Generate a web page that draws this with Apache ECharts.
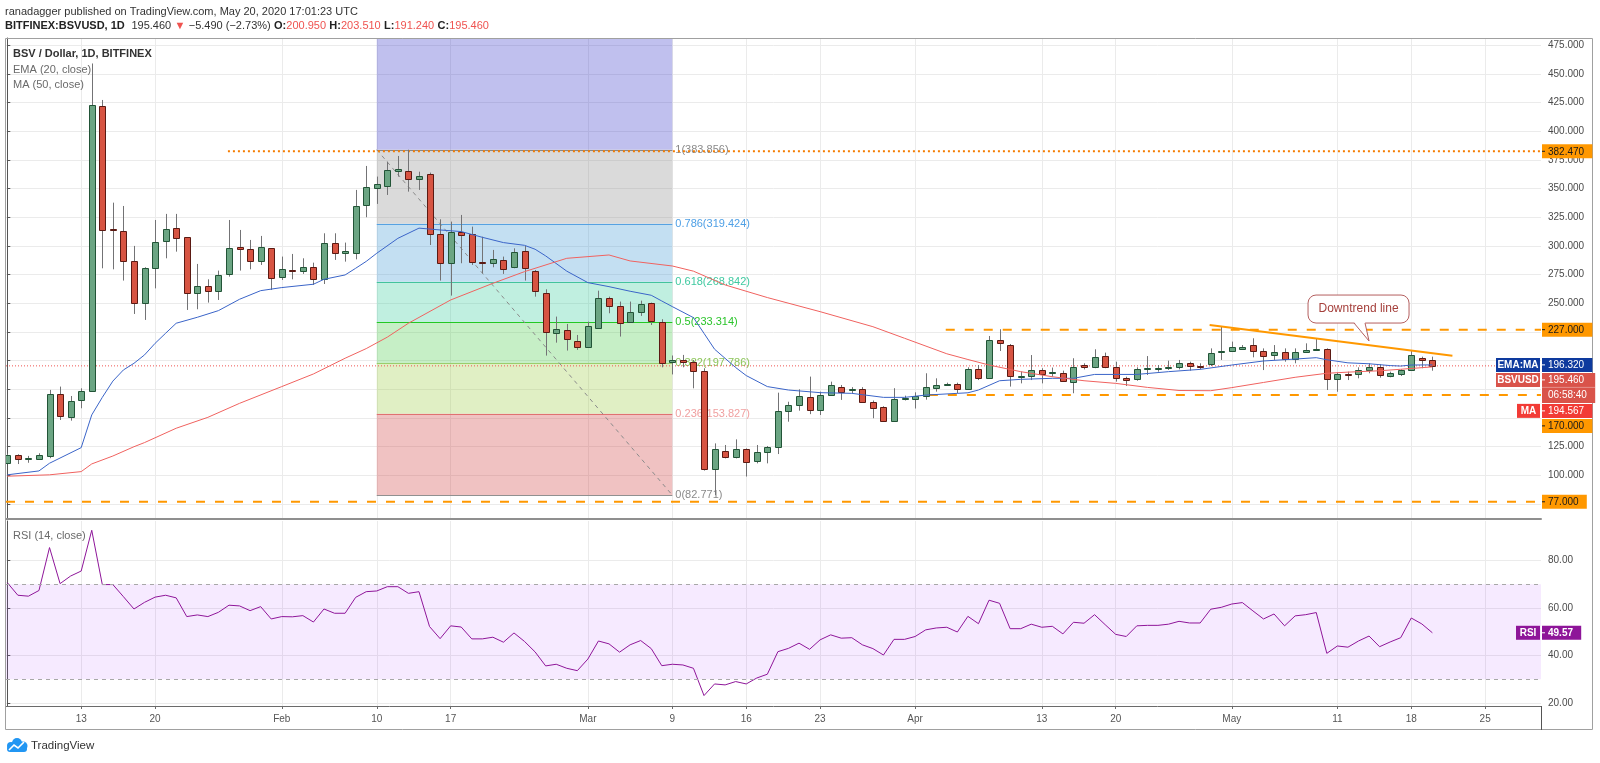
<!DOCTYPE html>
<html><head><meta charset="utf-8">
<script src="https://cdn.jsdelivr.net/npm/echarts@6/dist/echarts.min.js"></script>
<style>html,body{margin:0;padding:0;background:#fff}#c{width:1600px;height:763px}</style>
</head><body><div id="c"></div>
<script>
// ---------- DATA (day index 0 = 2020-01-06, one candle per day) ----------
const ohlc = [ // [open, close, low, high]
[111,118,110,119],[117.8,114.3,109.9,118.4],[115,115.3,111,117],[114,117.5,113.5,119.3],[116.9,171,115,174.5],
[171,151.8,148.3,177.4],[150.6,164.9,147.7,169.2],[165.8,173.3,158.5,175.9],[173.9,422.8,173,459],[422,313.9,280.5,427.2],
[315,313.5,279.6,337.7],[312.7,287.2,269.8,334.8],[286.6,250,240.7,300],[250,280.5,235.5,281.4],[281.1,303.7,263,322.6],
[304.3,314.5,289.2,327.9],[315.4,307.2,295,327.9],[307.5,259.3,244.2,307.5],[259.3,265.4,244.8,284.3],[265.4,260.7,250.6,270.9],
[260.7,274.7,252.9,278.5],[275.6,297.9,273.2,322.6],[299.4,297,278.5,313.9],[297,287.2,279.6,305.2],[287.2,298.8,283.4,308.7],
[297.9,272.4,261.6,298],[273.2,279.6,270.3,290.7],[279,278.5,270.9,293],[278.5,282,275.6,289.2],[282,270.9,266,285.4],
[270.9,302.3,266.8,311],[302.3,294.2,287.8,311],[294.2,295.9,286.3,302.9],[294.2,334.8,288.3,348.8],[335.4,351.1,325,369.7],
[350.5,353.7,336.6,360.4],[352.5,366.2,344.4,373.5],[365.6,366.8,360.4,378.4],[365.6,358.1,347.3,383.86],[358.1,361.3,348.8,364.7],
[362.4,310.4,300.8,363.9],[310.1,285.4,269.8,323.2],[284.9,312.5,256.7,321.2],[312.2,309.6,284.9,327],[310.4,286.3,283.4,316.8],
[286.3,286.0,276.1,308],[284.9,288.9,281.4,296.5],[287.8,279.6,275.6,290.7],[281.4,295,280.5,297.9],[295.6,280.5,269.8,300],
[278.5,260.7,255.8,279],[258.7,225,204.4,262.2],[223.9,227.9,215.7,238.4],[227,218.6,208.8,232],[217.5,212.2,209.4,222.4],
[212.2,230.2,212,234],[228.8,254.4,228.2,261],[254.4,248,241.3,255.8],[248,232.6,221,251.5],[234,242.7,233.2,251.5],
[242.7,249.4,239,252.3],[250,234.9,231.1,250.6],[234,198.3,194.2,236.1],[198.8,200.3,188,204.5],[200.6,199.1,194.2,205],
[199.1,191.3,175.9,200.6],[191.3,105.3,104.2,193.4],[105.3,122.7,82.77,127.9],[121.6,116.4,114.8,126.5],[116.4,122.7,114.8,131.4],
[122.7,112,99,123.5],[112.6,120.1,110.5,126.5],[120.1,124.5,110.5,125.6],[125,156.4,118.6,172.1],[156.1,161,146.8,164.2],
[161.3,169.2,156.4,175],[168,157,153.4,186.1],[157,170.1,152.6,173],[170.1,178.8,169.2,181.7],[177.4,172.4,165.8,178.8],
[174.4,175.5,171.6,176.9],[175.5,164.4,163.8,176.9],[164.4,158.6,149.8,165.3],[159.4,147.8,147,160.3],[147.8,166.7,147,176],
[166.7,167.2,165.3,169.5],[166.7,169.5,158.3,172.4],[169.2,176.7,166,189],[175.9,178.8,173,184.6],[179,179.9,178,180.8],
[179.4,175,171.6,180.8],[175,192.7,174.4,194.2],[192.7,184.6,183.1,196.2],[185.2,218,184.6,221.5],[218,215.1,208.4,227.4],
[213.6,186.6,177.4,214.5],[186.6,186.9,180.2,190.4],[186.6,191.9,183.1,204.9],[191.9,188.4,180.2,193.4],[188.9,190.1,186,194],
[189.5,182.3,181.7,191.3],[181.1,194.8,171.6,202.1],[195.9,194.2,192.4,197.7],[194.2,203.5,193.4,209.9],[204.3,194.2,193.4,207],
[194.2,184.6,181.7,199.1],[184.6,183.1,177.9,186],[183.7,192.7,182.5,194.2],[192.4,193.6,187.5,204],[193.4,193.4,190.4,196.2],
[194,194.8,191.9,200],[194.2,197.7,192.4,200.6],[197.7,195.3,191.3,199.1],[195.6,195.3,192.4,197.7],[196.8,206.9,195.3,210.7],
[207.3,208.7,200.6,229.6],[208.7,211.6,207.8,216.6],[210.5,212.2,209.3,213.6],[213.3,208.7,202.9,219.5],[208.7,204.1,191.8,210.7],
[204.6,207.5,200.6,213.6],[207.5,201.1,199.1,210.7],[201.1,207.8,197.7,210.7],[207.8,209.3,206.9,215.1],[209.3,209.9,208.7,219.5],
[209.9,183.7,174.4,210.7],[183.7,188.1,172.9,189.5],[188.1,187.2,183.1,190.4],[188.1,191.9,184.6,194.2],[191.9,194.8,189,197.7],
[194.8,187.5,185.2,196.8],[186.6,189,185.5,190.4],[188.1,191.9,186.6,192.4],[191.9,205,191.3,209.3],[202.6,200.95,193.4,203.5],
[200.95,195.46,191.24,203.51]
];
const emaPoints = [[0,100.5],[3,103.9],[4,110.6],[7,124.2],[8,152.7],[9,168],[10,182.2],[11,191.9],[12,197.7],[13,205],[14,215.1],[15,223.9],[16,232.6],[18,237.8],[20,243.6],[22,253.5],[24,261],[26,263.7],[29,266.6],[30,270.9],[32,274.7],[33,280.5],[34,286.5],[35,293.6],[37,306.6],[39,315.5],[41,313.9],[43,312.5],[45,307.5],[47,302.9],[49,300.5],[50,297.1],[51,291.3],[53,278],[55,268],[57,264.5],[59,260.5],[61,257],[62,252],[63,247.1],[65,237.5],[66,223.8],[67,210],[69,194],[70,187],[72,177.4],[74,174.4],[77,172.1],[80,171.5],[83,168],[85,168],[87,170],[90,171.5],[91,172],[92,174.4],[94,182.5],[96,183.7],[99,184.6],[101,184.6],[103,188],[107,188],[110,190.4],[113,192.4],[116,196.2],[119,199.7],[122,201.4],[124,202.6],[125,200.8],[127,198.1],[129,197.3],[131,195.7],[132,195.3],[133,196.2],[135,196.32]];
const maPoints = [[0,99.3],[4,100.5],[7,103.3],[8,110],[10,116.9],[12,125],[13,128.6],[16,141.1],[19,150.6],[22,162.8],[26,177.4],[29,188.4],[32,202.1],[34,210.5],[36,220.5],[38,232.6],[42,252.9],[46,267.4],[49,277.6],[53,289.2],[57,292.1],[59,286.9],[63,282.5],[65,278],[68,266],[72,255],[77,242.7],[82,229.6],[85,219.5],[89,206],[91,201],[93,196.2],[96,190.4],[99,186],[102,182.5],[105,180.2],[108,176.7],[111,174],[114,173.8],[116,176.5],[119,181],[122,185.5],[125,189],[127,190],[130,191.2],[132,192.5],[135,194.567]];
const rsiValues = [70.7,65.4,65.0,67.4,85.5,70.3,73.5,75.6,92.8,69.9,69.9,64.8,59.6,62.4,64.6,65.4,64.3,56.4,57.1,56.4,
58.2,61.2,60.9,58.9,60.6,55.4,56.4,56.3,56.8,54.1,59.6,57.8,57.8,64.5,66.9,67.2,69.0,69.0,66.2,66.9,
52.2,47.1,52.5,52.0,47.0,47.0,47.7,45.6,49.5,45.9,41.5,35.6,36.3,34.6,33.6,38.5,46.1,44.9,41.4,44.5,
46.3,42.9,35.7,36.3,36.0,34.6,23.1,28.0,27.6,29.0,28.0,30.5,32.1,41.6,43.0,45.2,42.6,46.6,48.7,47.3,
47.5,44.5,42.9,40.2,46.8,46.8,48.0,50.8,51.6,51.9,49.9,56.5,53.4,63.3,62.0,51.3,51.3,53.2,51.9,52.3,
49.1,54.0,53.6,57.2,53.0,48.9,48.0,52.5,52.7,52.7,53.2,54.4,53.7,53.7,59.5,60.3,61.7,62.3,58.8,55.4,
57.5,52.5,56.7,57.2,58.1,40.9,44.0,43.5,46.1,48.2,43.7,45.7,47.5,55.8,53.3,49.57];
const tickDays = [7,14,26,35,42,55,63,70,77,86,98,105,116,126,133,140];
const tickLabels = ['13','20','Feb','10','17','Mar','9','16','23','Apr','13','20','May','11','18','25'];
const priceTicks = [75,100,125,150,175,200,225,250,275,300,325,350,375,400,425,450,475];
const hiddenPriceTicks = [75,150,175,200,225];
const rsiTicks = [20,40,60,80];
const fibRatios = [1,0.786,0.618,0.5,0.382,0.236,0];
const fibPrices = [383.856,319.424,268.842,233.314,197.786,153.827,82.771];
const fibTopPrice = 570.1;          // 1.618 level (off screen)
const fibDays = [35.0, 63.0];
const resistance = {price:382.47, from:20.9};
const upperRange = {price:227, from:88.9};
const lowerRange = {price:170, from:87.3};
const supportLow = {price:77};
const downtrend = [[113.9,231.1],[136.9,204.3]];
const lastEma = 196.32, lastMa = 194.567, lastRsi = 49.57;
const countdown = '06:58:40';

// ---------- LAYOUT / STYLE ----------
const X_MIN = -0.123, X_MAX = 145.29, Y_MIN = 62.0, Y_MAX = 481.2, R_MIN = 18.7, R_MAX = 96.7;
const FONT = '"Liberation Sans", Arial, sans-serif';
const UP_FILL='#6ba583', UP_BORDER='#225437', DN_FILL='#d75442', DN_BORDER='#5b1a13', WICK='#737375';
const ORANGE='#ff9800';
const fibFill = ['rgba(45,48,198,0.3)','rgba(132,132,132,0.3)','rgba(55,148,212,0.3)','rgba(48,202,152,0.3)','rgba(65,202,65,0.3)','rgba(152,202,58,0.3)','rgba(205,52,52,0.3)'];
const fibLine = ['#8c8c8c','#64a8e8','#4cc0a0','#1ec81e','#9bd07a','#e88c8c','#909090'];
const fibText = ['#8a8a8a','#4fa0e6','#3ec9a0','#2bc42b','#8cc55a','#f0a0a0','#8a8a8a'];
const lastClose = ohlc[ohlc.length-1][1];

const chart = echarts.init(document.getElementById('c'), null, {width:1600, height:763});

function renderCandle(params, api){
  const x = api.value(0), o = api.value(1), c = api.value(2), l = api.value(3), h = api.value(4);
  const pO = api.coord([x,o]), pC = api.coord([x,c]), pH = api.coord([x,h]), pL = api.coord([x,l]);
  const cx = Math.round(pO[0]) + 0.5;
  const up = c >= o;
  const top = Math.round(Math.min(pO[1],pC[1])), bot = Math.round(Math.max(pO[1],pC[1]));
  return {type:'group', children:[
    {type:'line', shape:{x1:cx,y1:pH[1],x2:cx,y2:pL[1]}, style:{stroke:WICK,lineWidth:1}},
    {type:'rect', shape:{x:cx-3,y:top+0.5,width:6,height:Math.max(1,bot-top)}, style:{fill:up?UP_FILL:DN_FILL, stroke:up?UP_BORDER:DN_BORDER, lineWidth:1}}
  ]};
}
function renderFib(params, api){
  const i = params.dataIndex;
  const upper = i === 0 ? fibTopPrice : fibPrices[i-1];
  const a = api.coord([fibDays[0], upper]), b = api.coord([fibDays[1], fibPrices[i]]);
  return {type:'group', children:[
    {type:'rect', shape:{x:a[0],y:a[1],width:b[0]-a[0],height:b[1]-a[1]}, style:{fill:fibFill[i]}},
    {type:'line', shape:{x1:a[0],y1:Math.round(b[1])+0.5,x2:b[0],y2:Math.round(b[1])+0.5}, style:{stroke:fibLine[i],lineWidth:1}},
    {type:'text', x:b[0]+3, y:b[1], style:{text:fibRatios[i]+'('+fibPrices[i].toFixed(3)+')', fill:fibText[i], font:'11px '+FONT, verticalAlign:'middle', align:'left'}}
  ]};
}
function hLine(name, from, to, price, color, type, width, z){
  return {name, type:'line', xAxisIndex:0, yAxisIndex:0, data:[[from,price],[to,price]], showSymbol:false, silent:true, z:z||2,
    lineStyle:{color, type, width}};
}
const gridLineStyle = {color:'#ebebeb', width:1};

const option = {
  animation:false,
  textStyle:{fontFamily:FONT},
  grid:[{left:6,right:59,top:38,height:481},{left:6,right:59,top:521,height:185}],
  xAxis:[
    {type:'value',gridIndex:0,min:X_MIN,max:X_MAX,
     axisLine:{show:true,onZero:false,lineStyle:{color:'#8f8f8f',width:2}},
     axisTick:{show:false,customValues:tickDays}, axisLabel:{show:false,customValues:tickDays},
     splitLine:{show:true,lineStyle:gridLineStyle}},
    {type:'value',gridIndex:1,min:X_MIN,max:X_MAX,
     axisLine:{show:true,onZero:false,lineStyle:{color:'#6b6b6b'}},
     axisTick:{show:true,length:3,customValues:tickDays,lineStyle:{color:'#6b6b6b'}},
     axisLabel:{customValues:tickDays,color:'#555',fontSize:10,margin:8,
       formatter:v=>{const k=tickDays.indexOf(Math.round(v));return k>=0?tickLabels[k]:'';}},
     splitLine:{show:true,lineStyle:gridLineStyle}}
  ],
  yAxis:[
    {type:'value',gridIndex:0,position:'right',min:Y_MIN,max:Y_MAX,
     axisLine:{show:true,lineStyle:{color:'#555'}},
     axisTick:{show:true,length:3,customValues:priceTicks,lineStyle:{color:'#555'}},
     axisLabel:{customValues:priceTicks,color:'#4a4a4a',fontSize:10,margin:7,
       formatter:v=>hiddenPriceTicks.indexOf(v)>=0?'':v.toFixed(3)},
     splitLine:{show:true,lineStyle:gridLineStyle}},
    {type:'value',gridIndex:1,position:'right',min:R_MIN,max:R_MAX,
     axisLine:{show:true,lineStyle:{color:'#555'}},
     axisTick:{show:true,length:3,customValues:rsiTicks,lineStyle:{color:'#555'}},
     axisLabel:{customValues:rsiTicks,color:'#4a4a4a',fontSize:10,margin:7,formatter:v=>v.toFixed(2)},
     splitLine:{show:true,lineStyle:gridLineStyle}}
  ],
  series:[
    {name:'fib',type:'custom',xAxisIndex:0,yAxisIndex:0,clip:true,z:1,silent:true,
     data:fibPrices.map((p,i)=>[fibDays[1],p]),encode:{x:0,y:1},renderItem:renderFib},
    {name:'fibTrend',type:'line',xAxisIndex:0,yAxisIndex:0,data:[[fibDays[0],fibPrices[0]],[fibDays[1],fibPrices[6]]],
     showSymbol:false,silent:true,z:2,lineStyle:{color:'#8a8a8a',type:[4,4],width:1}},
    hLine('res382', resistance.from, X_MAX, resistance.price, '#f57c00', [2,3], 2),
    hLine('r227', upperRange.from, X_MAX, upperRange.price, ORANGE, [9,10], 2),
    hLine('r170', lowerRange.from, X_MAX, lowerRange.price, ORANGE, [9,10], 2),
    hLine('s77', X_MIN, X_MAX, supportLow.price, ORANGE, [9,10], 2),
    hLine('last', X_MIN, X_MAX, lastClose, '#ef5350', [1,2], 1),
    {name:'candles',type:'custom',xAxisIndex:0,yAxisIndex:0,clip:true,z:3,silent:true,
     data:ohlc.map((d,i)=>[i,d[0],d[1],d[2],d[3]]),encode:{x:0,y:[1,2,3,4]},renderItem:renderCandle},
    {name:'EMA',type:'line',xAxisIndex:0,yAxisIndex:0,data:emaPoints,showSymbol:false,silent:true,z:4,
     lineStyle:{color:'#3a64c8',width:1}},
    {name:'MA',type:'line',xAxisIndex:0,yAxisIndex:0,data:maPoints,showSymbol:false,silent:true,z:4,
     lineStyle:{color:'#f0625f',width:1}},
    {name:'trend',type:'line',xAxisIndex:0,yAxisIndex:0,data:downtrend,showSymbol:false,silent:true,z:5,
     lineStyle:{color:ORANGE,width:2}},
    {name:'RSI',type:'line',xAxisIndex:1,yAxisIndex:1,data:rsiValues.map((v,i)=>[i,v]),showSymbol:false,silent:true,z:4,
     lineStyle:{color:'#8e1599',width:1},
     markArea:{silent:true,itemStyle:{color:'rgba(153,21,255,0.09)'},data:[[{yAxis:30},{yAxis:70}]]},
     markLine:{silent:true,symbol:'none',label:{show:false},lineStyle:{color:'#a8a8a8',type:[4,4],width:1},
       data:[{yAxis:70},{yAxis:30}]}}
  ]
};
chart.setOption(option);

// ---------- overlay: header texts, price tags, callout ----------
function overlay(){
  const g = [];
  const T = (x,y,text,fill,size,weight)=>({type:'text',x,y,z:100,silent:true,
    style:{text,fill,font:(weight||'normal')+' '+size+'px '+FONT,verticalAlign:'middle',align:'left'}});
  g.push(T(5,12,'ranadagger published on TradingView.com, May 20, 2020 17:01:23 UTC','#333',11));
  const last = ohlc[ohlc.length-1], prev = ohlc[ohlc.length-2];
  const chg = last[1]-prev[1], pct = chg/prev[1]*100;
  g.push({type:'text',x:5,y:26,z:100,silent:true,style:{
    text:'{b|BITFINEX:BSVUSD, 1D}  {n|'+last[1].toFixed(3)+'} {r|▼} {n|−'+Math.abs(chg).toFixed(3)+' (−'+Math.abs(pct).toFixed(2)+'%)} {b|O:}{r|'+last[0].toFixed(3)+'} {b|H:}{r|'+last[3].toFixed(3)+'} {b|L:}{r|'+last[2].toFixed(3)+'} {b|C:}{r|'+last[1].toFixed(3)+'}',
    verticalAlign:'middle',
    rich:{b:{fill:'#222',fontWeight:'bold',fontSize:11,fontFamily:FONT},n:{fill:'#333',fontSize:11,fontFamily:FONT},r:{fill:'#ef5350',fontSize:11,fontFamily:FONT}}}});
  g.push(T(13,54,'BSV / Dollar, 1D, BITFINEX','#333',11,'bold'));
  g.push(T(13,70,'EMA (20, close)','#6a6a6a',11));
  g.push(T(13,85,'MA (50, close)','#6a6a6a',11));
  g.push(T(13,536,'RSI (14, close)','#6a6a6a',11));
  // frame
  g.push({type:'rect',z:90,silent:true,shape:{x:5.5,y:38.5,width:1587,height:691},style:{fill:null,stroke:'#a0a0a0',lineWidth:1}});
  const axisX = Math.round(chart.convertToPixel({gridIndex:0},[X_MAX,Y_MIN])[0]);
  g.push({type:'line',z:90,silent:true,shape:{x1:axisX+0.5,y1:706,x2:axisX+0.5,y2:730},style:{stroke:'#555',lineWidth:1}});
  // logo
  g.push({type:'group',x:5,y:738,z:100,silent:true,children:[
    {type:'circle',shape:{cx:6,cy:8,r:4},style:{fill:'#2196f3'}},
    {type:'circle',shape:{cx:12,cy:5,r:5},style:{fill:'#2196f3'}},
    {type:'circle',shape:{cx:18,cy:8,r:4.5},style:{fill:'#2196f3'}},
    {type:'rect',shape:{x:2,y:8,width:20,height:6,r:3},style:{fill:'#2196f3'}},
    {type:'polyline',shape:{points:[[4,12],[9,7],[13,10],[19,4]]},style:{stroke:'#fff',lineWidth:1.6,fill:null}}
  ]});
  g.push(T(31,746,'TradingView','#333',11.5));

  // price tags on the right axis (stacked like the original)
  const charW = s=>{let w=0;for(const ch of s){w+= (ch==='.'||ch===':')?2.8:5.6;}return w;};
  const tags = [
    {v:resistance.price, bg:ORANGE, fg:'#1a1a1a'},
    {v:upperRange.price, bg:ORANGE, fg:'#1a1a1a'},
    {v:lastEma, name:'EMA:MA', nameW:45, bg:'#0e3a9e', fg:'#fff'},
    {v:lastClose, name:'BSVUSD', nameW:45, bg:'#d9534a', fg:'#fff', sub:countdown},
    {v:lastMa, name:'MA', nameW:24, bg:'#f23b36', fg:'#fff'},
    {v:lowerRange.price, bg:ORANGE, fg:'#1a1a1a'},
    {v:supportLow.price, bg:ORANGE, fg:'#1a1a1a'}
  ];
  tags.forEach(t=>{t.y = chart.convertToPixel({gridIndex:0},[X_MAX,t.v])[1];});
  tags.sort((a,b)=>a.y-b.y);
  let prevBottom = -1e9;
  tags.forEach(t=>{
    const h = t.sub ? 30 : 14;
    const top = Math.max(t.y-7, prevBottom+1);
    prevBottom = top+h;
    const txt = t.v.toFixed(3);
    const w = 14 + Math.max(charW(txt), t.sub?charW(t.sub):0);
    g.push({type:'rect',z:110,silent:true,shape:{x:axisX+1,y:top,width:w,height:h},style:{fill:t.bg}});
    g.push({type:'line',z:111,silent:true,shape:{x1:axisX+1,y1:top+7,x2:axisX+4,y2:top+7},style:{stroke:t.fg,lineWidth:1}});
    g.push({type:'text',z:111,silent:true,x:axisX+7,y:top+7.5,style:{text:txt,fill:t.fg,font:'10px '+FONT,verticalAlign:'middle'}});
    if(t.sub){
      g.push({type:'line',z:111,silent:true,shape:{x1:axisX+1,y1:top+14.5,x2:axisX+1+w,y2:top+14.5},style:{stroke:'rgba(255,255,255,0.35)',lineWidth:1}});
      g.push({type:'text',z:111,silent:true,x:axisX+7,y:top+22.5,style:{text:t.sub,fill:t.fg,font:'10px '+FONT,verticalAlign:'middle'}});
    }
    if(t.name){
      g.push({type:'rect',z:110,silent:true,shape:{x:axisX-t.nameW,y:top,width:t.nameW-1,height:14},style:{fill:t.bg}});
      g.push({type:'text',z:111,silent:true,x:axisX-t.nameW/2-0.5,y:top+7.5,style:{text:t.name,fill:t.fg,font:'bold 10px '+FONT,verticalAlign:'middle',align:'center'}});
    }
  });
  // RSI tag
  const ry = chart.convertToPixel({gridIndex:1},[X_MAX,lastRsi])[1];
  const rtxt = lastRsi.toFixed(2);
  g.push({type:'rect',z:110,silent:true,shape:{x:axisX-25,y:ry-7,width:24,height:14},style:{fill:'#8e1599'}});
  g.push({type:'text',z:111,silent:true,x:axisX-13,y:ry+0.5,style:{text:'RSI',fill:'#fff',font:'bold 10px '+FONT,verticalAlign:'middle',align:'center'}});
  g.push({type:'rect',z:110,silent:true,shape:{x:axisX+1,y:ry-7,width:14+charW(rtxt),height:14},style:{fill:'#8e1599'}});
  g.push({type:'line',z:111,silent:true,shape:{x1:axisX+1,y1:ry,x2:axisX+4,y2:ry},style:{stroke:'#fff',lineWidth:1}});
  g.push({type:'text',z:111,silent:true,x:axisX+7,y:ry+0.5,style:{text:rtxt,fill:'#fff',font:'bold 10px '+FONT,verticalAlign:'middle'}});

  // "Downtrend line" callout anchored to a chart point
  const tip = chart.convertToPixel({gridIndex:0},[129.0,217.1]);
  const L = tip[0]-61, Tp = tip[1]-46, W = 101, H = 28;
  const stroke = '#b45f5f';
  g.push({type:'rect',z:120,silent:true,shape:{x:L,y:Tp,width:W,height:H,r:8},style:{fill:'#fff',stroke,lineWidth:1}});
  g.push({type:'polygon',z:121,silent:true,shape:{points:[[L+46,Tp+H-1],[tip[0],tip[1]],[L+57,Tp+H-1]]},style:{fill:'#fff'}});
  g.push({type:'polyline',z:122,silent:true,shape:{points:[[L+46,Tp+H],[tip[0],tip[1]],[L+57,Tp+H]]},style:{stroke,lineWidth:1,fill:null}});
  g.push({type:'text',z:123,silent:true,x:L+W/2,y:Tp+H/2,style:{text:'Downtrend line',fill:'#a5403c',font:'12px '+FONT,align:'center',verticalAlign:'middle'}});
  return g;
}
chart.setOption({graphic:overlay()});
</script></body></html>
